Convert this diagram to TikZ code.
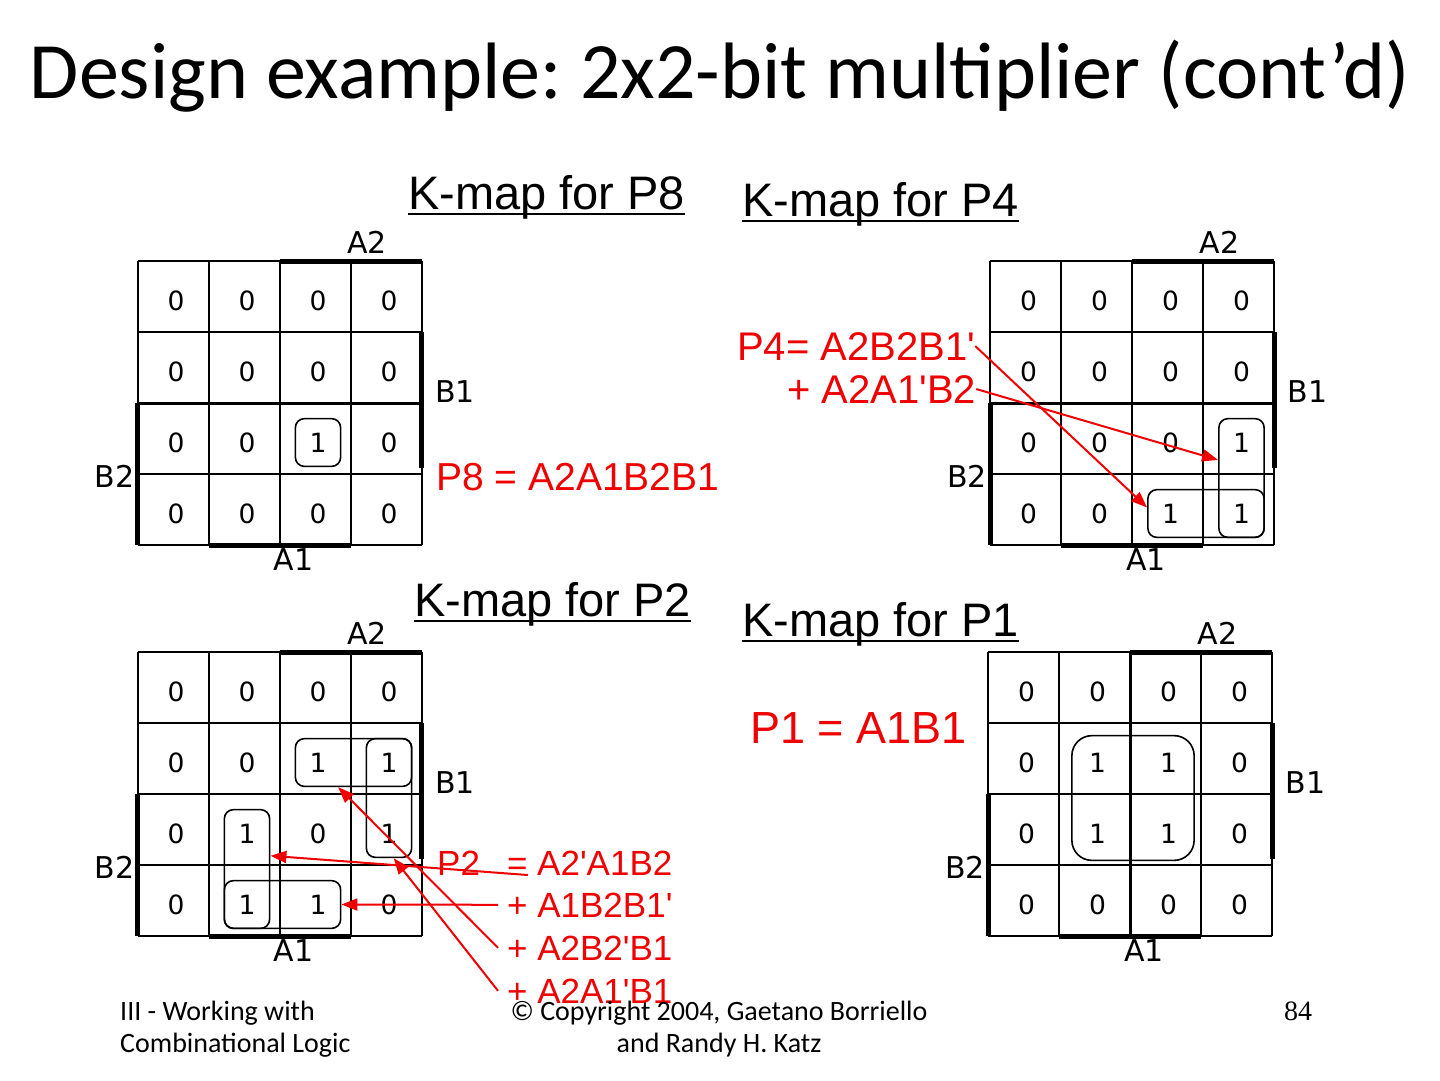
\documentclass[tikz,border=0pt]{standalone}
\usepackage{fontspec}
\setmainfont{Carlito}
\newfontfamily\arialfont{Liberation Sans}
\newfontfamily\dejafont{DejaVu Sans}
\newfontfamily\numfont{Liberation Serif}
\usetikzlibrary{arrows.meta, positioning, calc, fit}
\definecolor{cRed}{RGB}{240,0,0}
\frenchspacing
\tikzset{
	slidetitle/.style={font=\fontsize{80}{90}\selectfont, inner sep=0pt, anchor=base},
	maptitle/.style ={font=\arialfont\fontsize{47}{52}\selectfont, inner sep=0pt, anchor=base west},
	uline/.style    ={line width=2pt},
	cellline/.style ={line width=2pt},
	edgebar/.style  ={line width=5pt},
	axislbl/.style  ={font=\dejafont\fontsize{30}{32}\selectfont, inner sep=0pt},
	digit/.style    ={font=\dejafont\fontsize{26.5}{28}\selectfont, inner sep=0pt},
	grp/.style      ={draw, rounded corners=9pt, line width=1.6pt, inner sep=14pt},
	formula/.style  ={font=\arialfont\fontsize{40}{44}\selectfont, text=cRed, inner sep=0pt, anchor=base west},
	pointer/.style  ={draw=cRed, line width=2pt, -{Triangle[length=16pt,width=12pt]}},
	foot/.style     ={font=\fontsize{28}{32}\selectfont, inner sep=0pt, anchor=base},
}
\begin{document}
\begin{tikzpicture}[x=1pt, y=-1pt]
	\useasboundingbox (0,0) rectangle (1440,1080);
	\node[slidetitle] (title) at (720,98) {Design example: 2x2-bit multiplier (cont’d)};

	% map titles
	\node[maptitle] (t8) at (408,209) {K-map for P8};
	\node[maptitle] (t4) at (742,216) {K-map for P4};
	\node[maptitle] (t2) at (414,616) {K-map for P2};
	\node[maptitle] (t1) at (742,636) {K-map for P1};
	\foreach \t in {t8,t4,t2,t1}
		\draw[uline] ([yshift=-5pt]\t.base west) -- ([yshift=-5pt]\t.base east);

	% grids and variable labels
	\foreach \m/\ox/\oy in {p8/137.5/261, p4/990/261, p2/137.5/652, p1/988/652} {
		\begin{scope}[shift={(\ox,\oy)}]
			\foreach \k in {0,...,4} {
				\draw[cellline] (71*\k,0) -- (71*\k,284);
				\draw[cellline] (0,71*\k) -- (284,71*\k);
			}
			\draw[edgebar] (142,0) -- (284,0);
			\draw[edgebar] (284,71) -- (284,207);
			\draw[edgebar] (0,142) -- (0,284);
			\draw[edgebar] (71,284) -- (213,284);
			\node[axislbl] (\m-A2) at (229.5,-18.5) {A2};
			\node[axislbl] (\m-B1) at (317.5,131) {B1};
			\node[axislbl] (\m-B2) at (-23,215) {B2};
			\node[axislbl] (\m-A1) at (156,299) {A1};
		\end{scope}
	}
	\draw[line width=3pt] (137.5,403) -- (421.5,403);
	\draw[line width=3pt] (990,403) -- (1274,403);
	\draw[line width=3pt] (1130,652) -- (1130,936);

	% cell values
	\foreach \r/\row in {1/{0,0,0,0},2/{0,0,0,0},3/{0,0,1,0},4/{0,0,0,0}}
		\foreach \v [count=\c] in \row
			\node[digit] (p8-\r-\c) at (137.5+71*\c-32.5, 261+71*\r-31.5) {\v};
	\foreach \r/\row in {1/{0,0,0,0},2/{0,0,0,0},3/{0,0,0,1},4/{0,0,1,1}}
		\foreach \v [count=\c] in \row
			\node[digit] (p4-\r-\c) at (990+71*\c-32.5, 261+71*\r-31.5) {\v};
	\foreach \r/\row in {1/{0,0,0,0},2/{0,0,1,1},3/{0,1,0,1},4/{0,1,1,0}}
		\foreach \v [count=\c] in \row
			\node[digit] (p2-\r-\c) at (137.5+71*\c-32.5, 652+71*\r-31.5) {\v};
	\foreach \r/\row in {1/{0,0,0,0},2/{0,1,1,0},3/{0,1,1,0},4/{0,0,0,0}}
		\foreach \v [count=\c] in \row
			\node[digit] (p1-\r-\c) at (988+71*\c-32.5, 652+71*\r-31.5) {\v};

	% groups
	\node[grp, fit=(p8-3-3)] (g8) {};
	\node[grp, fit=(p4-3-4)(p4-4-4)] (g4v) {};
	\node[grp, fit=(p4-4-3)(p4-4-4)] (g4h) {};
	\node[grp, fit=(p2-2-3)(p2-2-4)] (g2a) {};
	\node[grp, fit=(p2-2-4)(p2-3-4)] (g2b) {};
	\node[grp, fit=(p2-3-2)(p2-4-2)] (g2c) {};
	\node[grp, fit=(p2-4-2)(p2-4-3)] (g2d) {};
	\node[grp, fit=(p1-2-2)(p1-3-3), inner sep=17pt, rounded corners=20pt] (g1) {};

	% expressions
	\node[formula, font=\arialfont\fontsize{39}{43}\selectfont] (f8) at (436,490) {P8 = A2A1B2B1};
	\node[formula] (f4a) at (737,360) {P4= A2B2B1'};
	\node[formula] (f4b) at (787,403) {+ A2A1'B2};
	\node[formula, font=\arialfont\fontsize{45}{50}\selectfont] (f1) at (750,743) {P1 = A1B1};
	\node[formula, font=\arialfont\fontsize{35}{40}\selectfont] (f2p) at (437,875) {P2};
	\node[formula, font=\arialfont\fontsize{35}{40}\selectfont] (f2eq) at (507,875) {=};
	\node[formula, font=\arialfont\fontsize{35}{40}\selectfont] (f2a) at (537,875) {A2'A1B2};
	\node[formula, font=\arialfont\fontsize{35}{40}\selectfont] (f2b) at (507,917) {+ A1B2B1'};
	\node[formula, font=\arialfont\fontsize{35}{40}\selectfont] (f2c) at (507,960) {+ A2B2'B1};
	\node[formula, font=\arialfont\fontsize{35}{40}\selectfont] (f2d) at (507,1003) {+ A2A1'B1};

	% pointers
	\draw[pointer] (f4a.east) -- ([yshift=6pt]g4h.west);
	\draw[pointer] (f4b.east) -- ($(g4v.north west)!0.35!(g4v.south west)$);
	\draw[pointer] (f2eq.base east) -- ($(g2c.north east)!0.39!(g2c.south east)$);
	\draw[pointer] ([xshift=-9pt]f2b.west) -- (g2d.east);
	\draw[pointer] ([xshift=-9pt]f2c.west) -- ($(g2a.south west)!0.37!(g2a.south east)$);
	\draw[pointer] ([xshift=-9pt]f2d.west) -- ($(g2b.south west)!0.6!(g2b.south east)$);

	% footer
	\node[foot, anchor=base west, align=left] (ftl) at (120,1052) {III - Working with\\Combinational Logic};
	\node[foot, align=center] (ftc) at (719,1052) {© Copyright 2004, Gaetano Borriello\\and Randy H. Katz};
	\node[foot, font=\numfont\fontsize{28}{32}\selectfont] (pg) at (1298,1020) {84};
\end{tikzpicture}
\end{document}
